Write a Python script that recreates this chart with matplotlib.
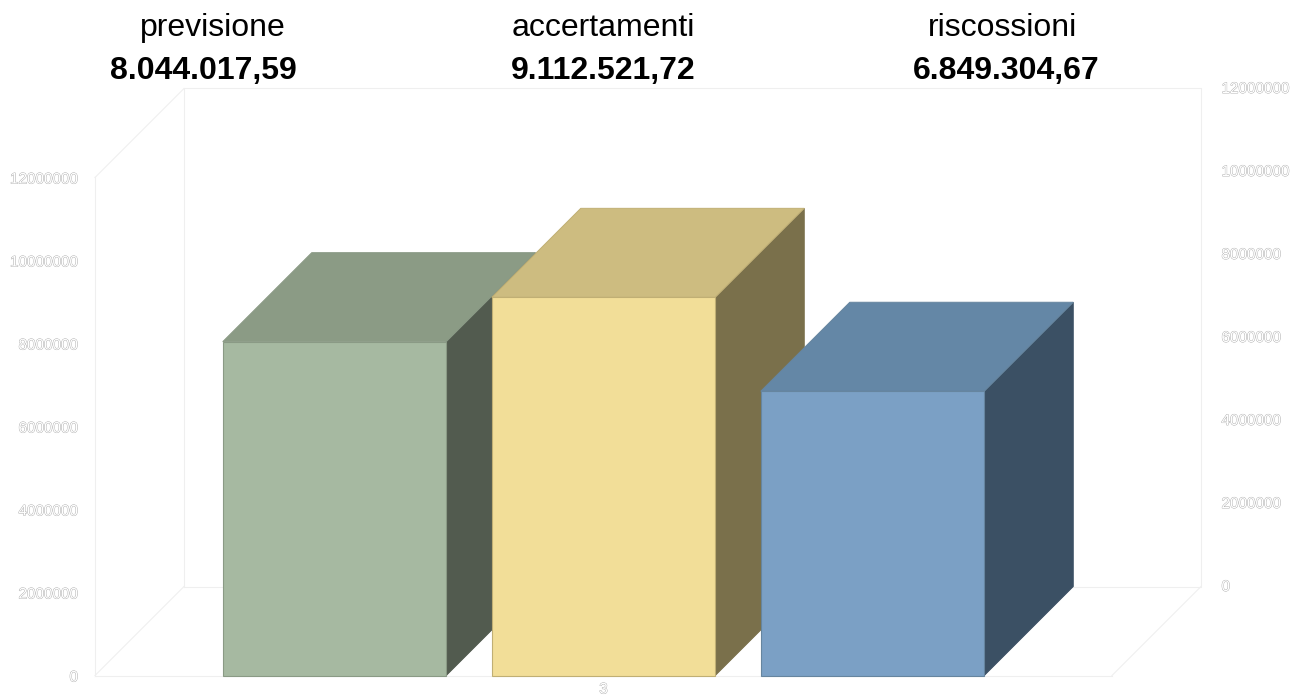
import matplotlib
matplotlib.use('Agg')
import matplotlib.pyplot as plt
import matplotlib.patheffects as pe

plt.rcParams['font.family'] = ['Liberation Sans', 'DejaVu Sans']

SERIES = ['previsione', 'accertamenti', 'riscossioni']
VALUE_LABELS = ['8.044.017,59', '9.112.521,72', '6.849.304,67']
VALUES = [8044017.59, 9112521.72, 6849304.67]
Y_TICKS = [0, 2000000, 4000000, 6000000, 8000000, 10000000, 12000000]
CATEGORY = '3'

FRONT = ['#A6B9A1', '#F2DE98', '#7BA0C5']
TOP = ['#8B9B85', '#CDBC80', '#6487A6']
SIDE = ['#525B4F', '#7A704B', '#3B5064']
EDGE = ['#8A9A85', '#C0AF74', '#66859F']

WIDTH, HEIGHT = 1302, 696
YMAX = 12000000
WALL = '#EFEFEF'

# plot box of the front plane, in pixels
LEFT, RIGHT, TOP_PX, BOTTOM = 95, 1112, 177.5, 675.5
DEPTH_PX = 89

BAR_WIDTH = 223.5 / (RIGHT - LEFT)
BAR_STEP = 269 / (RIGHT - LEFT)
DEPTH_X = DEPTH_PX / (RIGHT - LEFT)
DEPTH_Y = DEPTH_PX / (BOTTOM - TOP_PX) * YMAX
PX_Y = YMAX / (BOTTOM - TOP_PX)

fig = plt.figure(figsize=(WIDTH / 100, HEIGHT / 100), dpi=100)
ax = fig.add_axes([LEFT / WIDTH, 1 - BOTTOM / HEIGHT,
                   (RIGHT - LEFT) / WIDTH, (BOTTOM - TOP_PX) / HEIGHT])
ax.set_xlim(0, 1)
ax.set_ylim(0, YMAX)
ax.axis('off')


def wall_line(xs, ys):
  ax.plot(xs, ys, color=WALL, lw=0.8, clip_on=False, zorder=1)


def hollow(x, y, text, ha):
  t = ax.text(x, y, text, ha=ha, va='center', fontsize=11, color='white',
              clip_on=False)
  t.set_path_effects([pe.Stroke(linewidth=0.6, foreground='#A8A8A8'), pe.Normal()])


# walls and floor
wall_line([0, 0], [0, YMAX])
wall_line([0, 1], [0, 0])
wall_line([0, DEPTH_X], [YMAX, YMAX + DEPTH_Y])
wall_line([0, DEPTH_X], [0, DEPTH_Y])
wall_line([1, 1 + DEPTH_X], [0, DEPTH_Y])
wall_line([DEPTH_X, DEPTH_X, 1 + DEPTH_X, 1 + DEPTH_X, DEPTH_X],
          [DEPTH_Y, YMAX + DEPTH_Y, YMAX + DEPTH_Y, DEPTH_Y, DEPTH_Y])

# bars, painted left to right
for i, value in enumerate(VALUES):
  x0 = 0.5 + (i - 1) * BAR_STEP - BAR_WIDTH / 2
  x1 = x0 + BAR_WIDTH
  z = 3 + i
  ax.fill([x1, x1 + DEPTH_X, x1 + DEPTH_X, x1],
          [0, DEPTH_Y, value + DEPTH_Y, value],
          facecolor=SIDE[i], edgecolor=SIDE[i], lw=0.7, zorder=z, clip_on=False)
  ax.fill([x0, x1, x1 + DEPTH_X, x0 + DEPTH_X],
          [value, value, value + DEPTH_Y, value + DEPTH_Y],
          facecolor=TOP[i], edgecolor=EDGE[i], lw=0.7, zorder=z, clip_on=False)
  ax.bar(x0, value, width=BAR_WIDTH, align='edge', color=FRONT[i],
         edgecolor=EDGE[i], lw=0.8, zorder=z, clip_on=False)

# value axes, front left and back right
for tick in Y_TICKS:
  hollow(-17 / (RIGHT - LEFT), tick - 2 * PX_Y, str(tick), 'right')
  hollow(1 + DEPTH_X + 20.5 / (RIGHT - LEFT), tick + DEPTH_Y - 0.5 * PX_Y, str(tick), 'left')

hollow(0.5, -14 * PX_Y, CATEGORY, 'center')

# header over the chart
NAME_X = [213, 603, 1002]
NUMBER_X = [203, 603, 1006]
for i, name in enumerate(SERIES):
  fig.text(NAME_X[i] / WIDTH, 1 - 36 / HEIGHT, name, ha='center', va='baseline',
           fontsize=23, color='black')
  fig.text(NUMBER_X[i] / WIDTH, 1 - 79 / HEIGHT, VALUE_LABELS[i], ha='center',
           va='baseline', fontsize=23, fontweight='bold', color='black')

fig.savefig('out.png', dpi=100, facecolor='white')
